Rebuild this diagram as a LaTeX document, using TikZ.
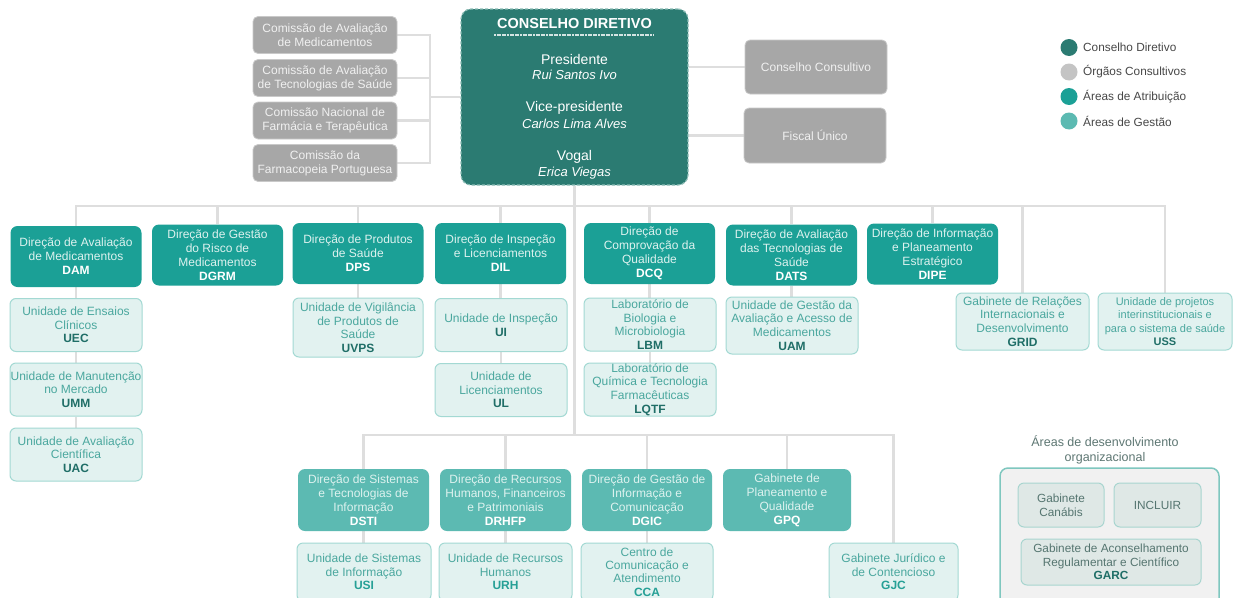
\documentclass[tikz,border=0pt]{standalone}
\usepackage{fontspec}
\setmainfont{Liberation Sans}
\usetikzlibrary{calc}
\definecolor{linec}{HTML}{DEDEDE}
\definecolor{greyf}{HTML}{A7A7A7}
\definecolor{greyb}{HTML}{C9C9C9}
\definecolor{greyt}{HTML}{F0F0F0}
\definecolor{cdf}{HTML}{2B7B72}
\definecolor{cdb}{HTML}{8CBDB6}
\definecolor{atribf}{HTML}{1BA096}
\definecolor{atribt}{HTML}{DDF2EF}
\definecolor{gestf}{HTML}{5CBAB2}
\definecolor{unitf}{HTML}{E2F2F0}
\definecolor{unitb}{HTML}{A3D9D3}
\definecolor{unitt}{HTML}{4AA79E}
\definecolor{codeA}{HTML}{1F6E67}
\definecolor{codeB}{HTML}{26A096}
\definecolor{devf}{HTML}{F1F1F1}
\definecolor{devb}{HTML}{7FC7BF}
\definecolor{devif}{HTML}{DFE8E6}
\definecolor{devib}{HTML}{A8D5CF}
\definecolor{devt}{HTML}{557570}
\definecolor{legt}{HTML}{474747}
\definecolor{legg}{HTML}{C4C4C4}
\newcommand{\fsz}[2]{\fontsize{#1}{#2}\selectfont}
\newcommand{\cA}[1]{\textcolor{codeA}{\textbf{#1}}}
\newcommand{\cB}[1]{\textcolor{codeB}{\textbf{#1}}}
\pgfdeclarelayer{bg}
\pgfsetlayers{bg,main}
\tikzset{
  conn/.style={draw=linec, line width=2.4pt},
  greybox/.style={rectangle, rounded corners=5pt, fill=greyf, draw=greyb, line width=0.8pt, text=greyt, align=center, font=\fsz{12}{14}, inner sep=0pt},
  atrib/.style={rectangle, rounded corners=7pt, fill=atribf, text=atribt, align=center, font=\fsz{12}{14}, inner sep=0pt, minimum width=131pt, minimum height=61pt},
  gest/.style={rectangle, rounded corners=7pt, fill=gestf, text=atribt, align=center, font=\fsz{12}{14}, inner sep=0pt, minimum width=131pt, minimum height=62pt},
  unitbox/.style={rectangle, rounded corners=6pt, fill=unitf, draw=unitb, line width=1pt, text=unitt, align=center, font=\fsz{12}{13.6}, inner sep=0pt, minimum width=132pt, minimum height=53pt},
  devbox/.style={rectangle, rounded corners=6pt, fill=devif, draw=devib, line width=1pt, text=devt, align=center, font=\fsz{11.8}{13.6}, inner sep=0pt},
  legdot/.style={circle, minimum size=17pt, inner sep=0pt},
  legtxt/.style={anchor=west, text=legt, font=\fsz{11.8}{13}, inner sep=0pt},
  cdtxt/.style={text=white, inner sep=0pt}
}
\begin{document}
\begin{tikzpicture}[x=1pt,y=-1pt]
\useasboundingbox (0,0) rectangle (1233,597);
\clip (0,0) rectangle (1233,597);

% committees
\node[greybox, minimum width=144pt, minimum height=37pt] (c1) at (325,35) {Comissão de Avaliação\\de Medicamentos};
\node[greybox, minimum width=144pt, minimum height=37pt] (c2) at (325,78) {Comissão de Avaliação\\de Tecnologias de Saúde};
\node[greybox, minimum width=144pt, minimum height=37pt] (c3) at (325,120.5) {Comissão Nacional de\\Farmácia e Terapêutica};
\node[greybox, minimum width=144pt, minimum height=37pt] (c4) at (325,163) {Comissão da\\Farmacopeia Portuguesa};
\coordinate (cj) at (430,97);

% conselho diretivo
\node[rectangle, rounded corners=10pt, fill=cdf, draw=cdb, dashed, dash pattern=on 3pt off 2pt, line width=1.2pt, minimum width=227pt, minimum height=176pt] (cd) at (574.5,97) {};
\node[cdtxt, font=\bfseries\fsz{14.5}{16}] (cdt) at (574.5,24) {CONSELHO DIRETIVO};
\coordinate (ul1) at (494,35);
\coordinate (ul2) at (653,35);
\draw[white!80!cdf, line width=1.3pt, dash pattern=on 2pt off 0.6pt] (ul1) -- (ul2);
\node[cdtxt, font=\fsz{14}{16}] (pres) at (574.5,59) {Presidente};
\node[cdtxt, font=\itshape\fsz{13}{15}] (presn) at (574.5,75) {Rui Santos Ivo};
\node[cdtxt, font=\fsz{14}{16}] (vice) at (574.5,108) {Vice-presidente};
\node[cdtxt, font=\itshape\fsz{13}{15}] (vicen) at (574.5,124) {Carlos Lima Alves};
\node[cdtxt, font=\fsz{14}{16}] (vog) at (574.5,157) {Vogal};
\node[cdtxt, font=\itshape\fsz{13}{15}] (vogn) at (574.5,173) {Erica Viegas};

% right consultative
\node[greybox, minimum width=142pt, minimum height=54pt] (cc) at (816,67) {Conselho Consultivo};
\node[greybox, minimum width=142pt, minimum height=55pt] (fu) at (815,135.5) {Fiscal Único};

% legend
\node[legdot, fill=cdf] (l1) at (1069,47.5) {};
\node[legtxt] (l1t) at (1083,47.5) {Conselho Diretivo};
\node[legdot, fill=legg] (l2) at (1069,72) {};
\node[legtxt] (l2t) at (1083,72) {Órgãos Consultivos};
\node[legdot, fill=atribf] (l3) at (1069,96.5) {};
\node[legtxt] (l3t) at (1083,96.5) {Áreas de Atribuição};
\node[legdot, fill=gestf] (l4) at (1069,121) {};
\node[legtxt] (l4t) at (1083,121) {Áreas de Gestão};

% top row directorates
\node[atrib] (dam) at (76,256.5) {Direção de Avaliação\\de Medicamentos\\\textcolor{white}{\textbf{DAM}}};
\node[atrib] (dgrm) at (217.5,255) {Direção de Gestão\\do Risco de\\Medicamentos\\\textcolor{white}{\textbf{DGRM}}};
\node[atrib] (dps) at (358,253.5) {Direção de Produtos\\de Saúde\\\textcolor{white}{\textbf{DPS}}};
\node[atrib] (dil) at (500.5,253.5) {Direção de Inspeção\\e Licenciamentos\\\textcolor{white}{\textbf{DIL}}};
\node[atrib] (dcq) at (649.5,253.5) {Direção de\\Comprovação da\\Qualidade\\\textcolor{white}{\textbf{DCQ}}};
\node[atrib] (dats) at (791.5,255) {Direção de Avaliação\\das Tecnologias de\\Saúde\\\textcolor{white}{\textbf{DATS}}};
\node[atrib] (dipe) at (932.5,254) {Direção de Informação\\e Planeamento\\Estratégico\\\textcolor{white}{\textbf{DIPE}}};

% units top
\node[unitbox] (uec) at (76,325) {Unidade de Ensaios\\Clínicos\\\cA{UEC}};
\node[unitbox] (umm) at (76,389.5) {Unidade de Manutenção\\no Mercado\\\cA{UMM}};
\node[unitbox] (uac) at (76,454.5) {Unidade de Avaliação\\Científica\\\cA{UAC}};
\node[unitbox, minimum width=130pt, minimum height=59pt] (uvps) at (358,327.5) {Unidade de Vigilância\\de Produtos de\\Saúde\\\cA{UVPS}};
\node[unitbox] (ui) at (501,325) {Unidade de Inspeção\\\cA{UI}};
\node[unitbox] (ul) at (501,390) {Unidade de\\Licenciamentos\\\cA{UL}};
\node[unitbox] (lbm) at (650,324.5) {Laboratório de\\Biologia e\\Microbiologia\\\cA{LBM}};
\node[unitbox] (lqtf) at (650,389.5) {Laboratório de\\Química e Tecnologia\\Farmacêuticas\\\cA{LQTF}};
\node[unitbox, minimum height=57pt] (uam) at (792,325.5) {Unidade de Gestão da\\Avaliação e Acesso de\\Medicamentos\\\cA{UAM}};
\node[unitbox, minimum width=133pt, minimum height=57pt] (grid) at (1022.5,321.5) {Gabinete de Relações\\Internacionais e\\Desenvolvimento\\\cA{GRID}};
\node[unitbox, minimum width=134pt, minimum height=57pt, font=\fsz{11}{13.4}] (uss) at (1165,321.5) {Unidade de projetos\\interinstitucionais  e\\para o sistema de saúde\\\cA{USS}};

% bottom directorates
\node[gest] (dsti) at (363.5,500) {Direção de Sistemas\\e Tecnologias de\\Informação\\\textcolor{white}{\textbf{DSTI}}};
\node[gest] (drhfp) at (505.5,500) {Direção de Recursos\\Humanos, Financeiros\\e Patrimoniais\\\textcolor{white}{\textbf{DRHFP}}};
\node[gest, minimum width=130pt] (dgic) at (647,500) {Direção de Gestão de\\Informação e\\Comunicação\\\textcolor{white}{\textbf{DGIC}}};
\node[gest, minimum width=128pt] (gpq) at (787,500) {Gabinete de\\Planeamento e\\Qualidade\\\textcolor{white}{\textbf{GPQ}}};

% bottom units
\node[unitbox, minimum width=134pt, minimum height=58pt] (usi) at (364,572) {Unidade de Sistemas\\de Informação\\\cB{USI}};
\node[unitbox, minimum width=133pt, minimum height=58pt] (urh) at (505.5,572) {Unidade de Recursos\\Humanos\\\cB{URH}};
\node[unitbox, minimum width=132pt, minimum height=58pt, font=\fsz{12}{13.2}] (cca) at (647,572) {Centro de\\Comunicação e\\Atendimento\\\cB{CCA}};
\node[unitbox, minimum width=129pt, minimum height=58pt] (gjc) at (893.5,572) {Gabinete Jurídico e\\de Contencioso\\\cB{GJC}};

% development areas
\node[text=devt!80!gray, font=\fsz{12.5}{15}, align=center, inner sep=0pt] (devt) at (1105,449.5) {Áreas de desenvolvimento\\organizacional};
\node[rectangle, rounded corners=8pt, fill=devf, draw=devb, line width=1.5pt, minimum width=219pt, minimum height=140pt] (dev) at (1109.5,538) {};
\node[devbox, minimum width=86pt, minimum height=44pt] (can) at (1061,505) {Gabinete\\Canábis};
\node[devbox, minimum width=87pt, minimum height=44pt] (incl) at (1157.5,505) {INCLUIR};
\node[devbox, minimum width=180pt, minimum height=46pt] (garc) at (1111,562) {Gabinete de Aconselhamento\\Regulamentar e Científico\\\textcolor{codeA}{\textbf{GARC}}};

% connectors
\coordinate (bt) at (574.5,206);
\coordinate (bb) at (574.5,435);
\begin{pgfonlayer}{bg}
\fill[white] (0,0) rectangle (1233,597);
\foreach \c in {c1,c2,c3,c4} \draw[conn] (\c.east) -| (cj);
\draw[conn] (cj) -- (cd.west);
\draw[conn] (cc.west) -- (cc.west -| cd.east);
\draw[conn] (fu.west) -- (fu.west -| cd.east);
\draw[conn] (cd.south) -- (bb);
\foreach \n in {dam,dgrm,dps,dil,dcq,dats,dipe,grid,uss} \draw[conn] (\n.north) |- (bt);
\foreach \n in {dsti,drhfp,dgic,gpq,gjc} \draw[conn] (\n.north) |- (bb);
\draw[conn] (dam.south) -- (dam.south |- uec.north);
\draw[conn] (uec.south) -- (uec.south |- umm.north);
\draw[conn] (umm.south) -- (umm.south |- uac.north);
\draw[conn] (dps.south) -- (dps.south |- uvps.north);
\draw[conn] (dil.south) -- (dil.south |- ui.north);
\draw[conn] (ui.south) -- (ui.south |- ul.north);
\draw[conn] (dcq.south) -- (dcq.south |- lbm.north);
\draw[conn] (lbm.south) -- (lbm.south |- lqtf.north);
\draw[conn] (dats.south) -- (dats.south |- uam.north);
\draw[conn] (dsti.south) -- (dsti.south |- usi.north);
\draw[conn] (drhfp.south) -- (drhfp.south |- urh.north);
\draw[conn] (dgic.south) -- (dgic.south |- cca.north);
\end{pgfonlayer}
\end{tikzpicture}
\end{document}
